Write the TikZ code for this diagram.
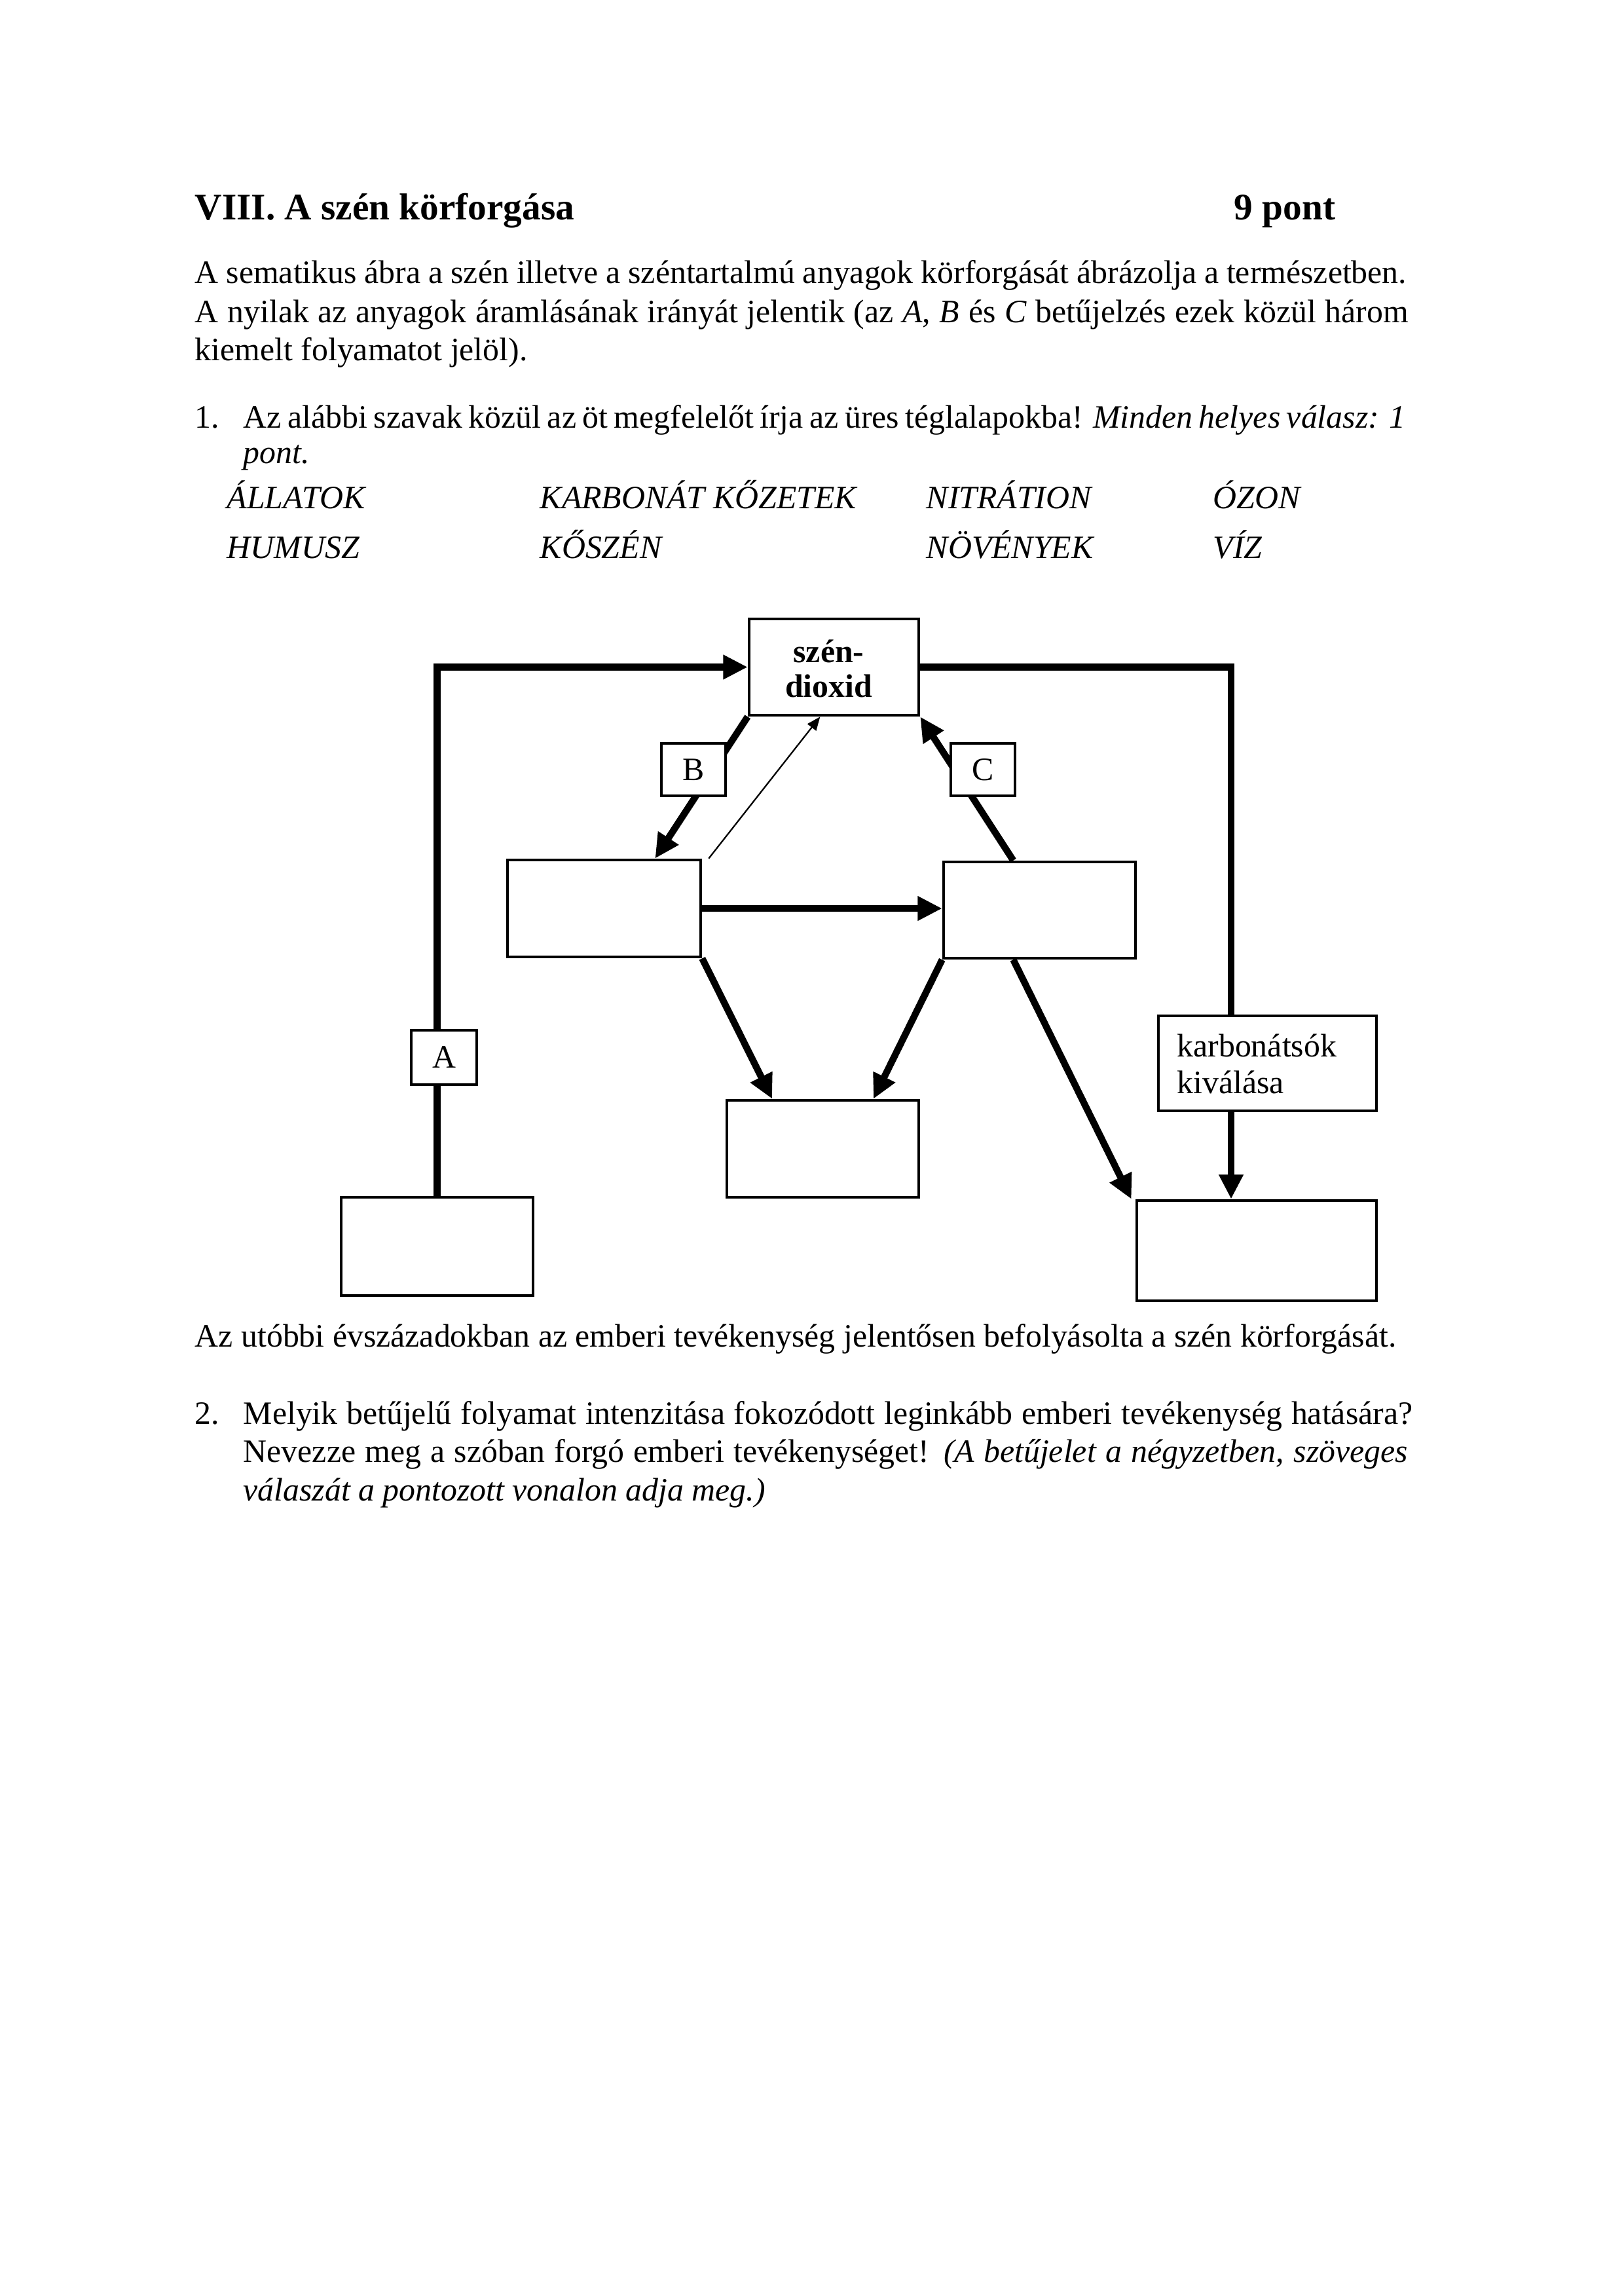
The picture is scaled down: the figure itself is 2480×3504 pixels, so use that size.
\documentclass[tikz,border=0pt]{standalone}
\usepackage{fontspec}
\setmainfont{Liberation Serif}
\usetikzlibrary{arrows.meta,fit,calc}
\newdimen\pxu \pxu=0.24094pt
\newcommand\jline[2]{\makebox[#1\pxu][s]{#2}}
\tikzset{
  box/.style={draw, line width=1.1pt, inner sep=0pt, fill=white},
  lbl/.style={draw, line width=1.1pt, inner sep=0pt, fill=white},
  intext/.style={inner sep=0pt, font=\fontsize{12}{14}\selectfont},
  flow/.style={line width=2.5pt, -{Triangle[length=9pt,width=8.5pt]}},
  plainflow/.style={line width=2.5pt},
  thinflow/.style={line width=0.55pt, -{Triangle[length=5pt,width=4pt]}},
  txt/.style={anchor=base west, inner sep=0pt, font=\fontsize{12}{14}\selectfont},
  ttl/.style={anchor=base west, inner sep=0pt, font=\fontsize{13.8}{16}\selectfont\bfseries},
}
\begin{document}
\begin{tikzpicture}[x=0.0846774mm, y=-0.0846774mm]
\useasboundingbox (0,0) rectangle (2480,3504);
\fill[white] (0,0) rectangle (2480,3504);

% ---- header text ----
\node[ttl] (title) at (297,335) {VIII. A szén körforgása};
\node[ttl, anchor=base east] (pont) at (2040,335) {9 pont};
\node[txt] (p1) at (297,432) {\jline{1850}{A sematikus ábra a szén illetve a széntartalmú anyagok körforgását ábrázolja a természetben.}};
\node[txt] (p2) at (297,492) {\jline{1853}{A nyilak az anyagok áramlásának irányát jelentik (az \textit{A}, \textit{B} és \textit{C} betűjelzés ezek közül három}};
\node[txt] (p3) at (297,550) {kiemelt folyamatot jelöl).};
\node[txt] (q1n) at (297,653) {1.};
\node[txt] (q1a) at (371,653) {\jline{1774}{Az alábbi szavak közül az öt megfelelőt írja az üres téglalapokba! \textit{Minden helyes válasz: 1}}};
\node[txt] (q1b) at (371,707) {\textit{pont.}};
\node[txt] (w1) at (346,776) {\textit{ÁLLATOK}};
\node[txt] (w2) at (824,776) {\textit{KARBONÁT KŐZETEK}};
\node[txt] (w3) at (1414,776) {\textit{NITRÁTION}};
\node[txt] (w4) at (1852,776) {\textit{ÓZON}};
\node[txt] (w5) at (346,852) {\textit{HUMUSZ}};
\node[txt] (w6) at (824,852) {\textit{KŐSZÉN}};
\node[txt] (w7) at (1414,852) {\textit{NÖVÉNYEK}};
\node[txt] (w8) at (1852,852) {\textit{VÍZ}};

% ---- diagram boxes ----
\node[box, fit={(1144,945) (1403,1092)}] (co2) {};
\node[intext, align=center, font=\fontsize{12}{12.8}\selectfont\bfseries] (co2t) at ($(co2.center)+(-8,2)$) {szén-\\dioxid};
\node[box, fit={(775,1313) (1070,1461)}] (lm) {};
\node[box, fit={(1441,1316) (1734,1463)}] (rm) {};
\node[box, fit={(1110,1680) (1403,1828)}] (cb) {};
\node[box, fit={(521,1828) (814,1978)}] (bl) {};
\node[box, fit={(1736,1833) (2102,1986)}] (br) {};
\node[box, fit={(1769,1551) (2102,1696)}] (karb) {};
\node[intext, align=left, anchor=west, font=\fontsize{12}{13.6}\selectfont] (karbt) at ($(karb.west)+(30,1)$) {karbonátsók\\kiválása};

\coordinate (rcol) at (1880,1000);

% ---- connectors ----
\draw[flow] (bl.north) |- (co2.west);
\draw[plainflow] (co2.east) -| (rcol |- karb.north);
\draw[flow] (rcol |- karb.south) -- (rcol |- br.north);
\draw[flow] (co2.south west) -- ($(lm.north west)!0.76!(lm.north east)$);
\draw[thinflow] ($(lm.north east)+(10,0)$) -- ($(co2.south west)!0.42!(co2.south east)$);
\draw[flow] ($(rm.north west)!0.365!(rm.north east)$) -- (co2.south east);
\draw[flow] (lm.east) -- (lm.east -| rm.west);
\draw[flow] (lm.south east) -- ($(cb.north west)!0.24!(cb.north east)$);
\draw[flow] (rm.south west) -- ($(cb.north west)!0.76!(cb.north east)$);
\draw[flow] ($(rm.south west)!0.365!(rm.south east)$) -- ($(br.north west)+(-6,0)$);

% ---- letter labels on the connectors ----
\node[lbl, fit={(628,1573) (728,1656)}] (la) {};
\node[intext] (lat) at (la.center) {A};
\node[lbl, fit={(1010,1135) (1108,1215)}] (lb) {};
\node[intext] (lbt) at (lb.center) {B};
\node[lbl, fit={(1452,1135) (1550,1215)}] (lc) {};
\node[intext] (lct) at (lc.center) {C};

% ---- bottom text ----
\node[txt] (s1) at (297,2056) {Az utóbbi évszázadokban az emberi tevékenység jelentősen befolyásolta a szén körforgását.};
\node[txt] (q2n) at (297,2174) {2.};
\node[txt] (q2a) at (371,2174) {\jline{1785}{Melyik betűjelű folyamat intenzitása fokozódott leginkább emberi tevékenység hatására?}};
\node[txt] (q2b) at (371,2232) {\jline{1778}{Nevezze meg a szóban forgó emberi tevékenységet! \textit{(A betűjelet a négyzetben, szöveges}}};
\node[txt] (q2c) at (371,2291) {\textit{válaszát a pontozott vonalon adja meg.)}};
\end{tikzpicture}
\end{document}
